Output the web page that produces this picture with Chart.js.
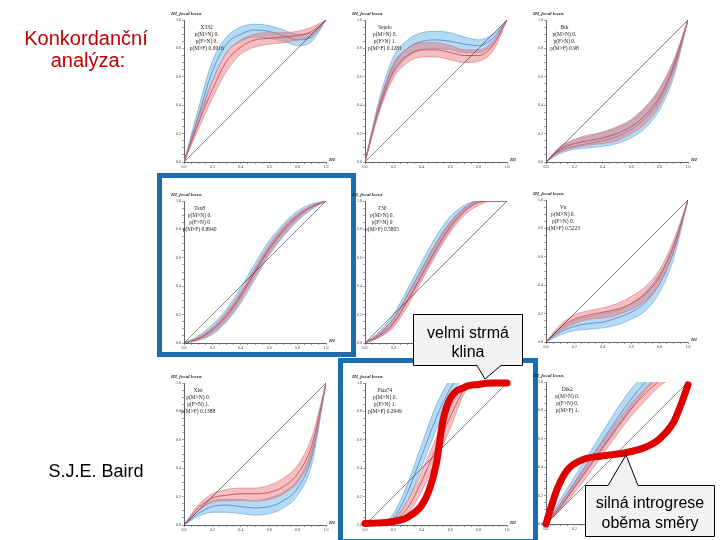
<!DOCTYPE html>
<html>
<head>
<meta charset="utf-8">
<script src="https://cdn.jsdelivr.net/npm/chart.js@4.4.1/dist/chart.umd.min.js"></script>
<style>
  body { margin: 0; width: 720px; height: 540px; background: #fff; position: relative; overflow: hidden; }
  .panel { position: absolute; }
  .frame { position: absolute; border: 5px solid #1b6db3; box-sizing: border-box; }
  svg { position: absolute; left: 0; top: 0; font-family: "Liberation Sans", Arial, sans-serif; }
</style>
</head>
<body>
<div class="frame" style="left:157px;top:173px;width:199px;height:184px"></div>
<div class="frame" style="left:338px;top:358px;width:200px;height:186px"></div>
<div id="panels"></div>
<svg width="720" height="540">
  <text x="86" y="45" font-size="20" fill="#c00000" text-anchor="middle">Konkordanční</text>
  <text x="88" y="67" font-size="20" fill="#c00000" text-anchor="middle">analýza:</text>
  <text x="96" y="477" font-size="18" fill="#000" text-anchor="middle">S.J.E. Baird</text>
  <path d="M413.5,314.5 H522.5 V365.5 H501 L485,379 L477,365.5 H413.5 Z" fill="#f2f2f2" stroke="#000" stroke-width="1"/>
  <text x="468" y="338" font-size="16" text-anchor="middle">velmi strmá</text>
  <text x="468" y="357" font-size="16" text-anchor="middle">klina</text>
  <path d="M585.5,485.5 H608 L626,455 L638,485.5 H714.5 V536.5 H585.5 Z" fill="#f2f2f2" stroke="#000" stroke-width="1"/>
  <text x="650" y="508" font-size="16" text-anchor="middle">silná introgrese</text>
  <text x="650" y="528" font-size="16" text-anchor="middle">oběma směry</text>
</svg>
<script>
// ---- Data: hybrid index grid and cline bands (lo / mid / hi) ----------
const xGrid    = [0, 0.1, 0.2, 0.3, 0.4, 0.5, 0.6, 0.7, 0.8, 0.9, 1.0];
const diagonal = [0, 1];

// panel 1
const p1BlueLo  = [0, 0.27, 0.57, 0.77, 0.85, 0.88, 0.87, 0.85, 0.82, 0.85, 1.0];
const p1BlueMid = [0, 0.32, 0.64, 0.83, 0.90, 0.93, 0.92, 0.89, 0.86, 0.88, 1.0];
const p1BlueHi  = [0, 0.37, 0.71, 0.88, 0.95, 0.97, 0.96, 0.93, 0.90, 0.91, 1.0];
const p1RedLo   = [0, 0.23, 0.45, 0.64, 0.76, 0.81, 0.83, 0.84, 0.86, 0.89, 1.0];
const p1RedMid  = [0, 0.27, 0.51, 0.71, 0.81, 0.86, 0.87, 0.88, 0.89, 0.92, 1.0];
const p1RedHi   = [0, 0.31, 0.57, 0.77, 0.86, 0.90, 0.91, 0.91, 0.92, 0.95, 1.0];
const p1Note    = ["X332", "p(M>N) 0.", "p(F>N) 0.", "p(M>F) 0.0016"];

// panel 2
const p2BlueLo  = [0, 0.36, 0.62, 0.74, 0.79, 0.80, 0.79, 0.77, 0.77, 0.83, 1.0];
const p2BlueMid = [0, 0.40, 0.68, 0.80, 0.85, 0.86, 0.85, 0.83, 0.82, 0.87, 1.0];
const p2BlueHi  = [0, 0.44, 0.74, 0.86, 0.91, 0.92, 0.91, 0.88, 0.86, 0.90, 1.0];
const p2RedLo   = [0, 0.35, 0.59, 0.70, 0.74, 0.74, 0.72, 0.70, 0.71, 0.78, 1.0];
const p2RedMid  = [0, 0.38, 0.64, 0.75, 0.79, 0.79, 0.77, 0.75, 0.75, 0.82, 1.0];
const p2RedHi   = [0, 0.41, 0.69, 0.80, 0.84, 0.84, 0.82, 0.79, 0.79, 0.85, 1.0];
const p2Note    = ["Sepdo", "p(M>N) 0.", "p(F>N) 1.", "p(M>F) 0.1281"];

// panel 3
const p3BlueLo  = [0, 0.06, 0.09, 0.10, 0.11, 0.13, 0.17, 0.24, 0.37, 0.60, 1.0];
const p3BlueMid = [0, 0.08, 0.11, 0.13, 0.15, 0.18, 0.23, 0.31, 0.44, 0.66, 1.0];
const p3BlueHi  = [0, 0.10, 0.15, 0.18, 0.21, 0.24, 0.29, 0.38, 0.51, 0.71, 1.0];
const p3RedLo   = [0, 0.07, 0.10, 0.12, 0.13, 0.15, 0.20, 0.27, 0.40, 0.63, 1.0];
const p3RedMid  = [0, 0.09, 0.13, 0.15, 0.17, 0.20, 0.25, 0.33, 0.46, 0.68, 1.0];
const p3RedHi   = [0, 0.11, 0.16, 0.19, 0.21, 0.25, 0.30, 0.39, 0.52, 0.72, 1.0];
const p3Note    = ["Btk", "p(M>N) 0.", "p(F>N) 0.", "p(M>F) 0.98"];

// panel 4
const p4BlueLo  = [0, 0.02, 0.06, 0.15, 0.28, 0.45, 0.62, 0.75, 0.86, 0.94, 1.0];
const p4BlueMid = [0, 0.03, 0.10, 0.20, 0.34, 0.51, 0.67, 0.80, 0.90, 0.96, 1.0];
const p4BlueHi  = [0, 0.05, 0.13, 0.24, 0.39, 0.56, 0.72, 0.84, 0.93, 0.98, 1.0];
const p4RedLo   = [0, 0.02, 0.07, 0.16, 0.30, 0.47, 0.63, 0.76, 0.87, 0.95, 1.0];
const p4RedMid  = [0, 0.03, 0.09, 0.19, 0.33, 0.50, 0.66, 0.79, 0.89, 0.96, 1.0];
const p4RedHi   = [0, 0.04, 0.11, 0.22, 0.36, 0.53, 0.69, 0.82, 0.91, 0.97, 1.0];
const p4Note    = ["Tsx8", "p(M>N) 0.", "p(F>N) 0", "p(M>F) 0.8940"];

// panel 5
const p5BlueLo  = [0, 0.04, 0.13, 0.29, 0.46, 0.64, 0.80, 0.92, 0.99, 1.0, 1.0];
const p5BlueMid = [0, 0.06, 0.17, 0.34, 0.52, 0.70, 0.85, 0.95, 1.0, 1.0, 1.0];
const p5BlueHi  = [0, 0.08, 0.20, 0.38, 0.57, 0.75, 0.89, 0.97, 1.0, 1.0, 1.0];
const p5RedLo   = [0, 0.04, 0.11, 0.26, 0.44, 0.62, 0.78, 0.90, 0.97, 1.0, 1.0];
const p5RedMid  = [0, 0.05, 0.14, 0.30, 0.48, 0.66, 0.82, 0.93, 0.99, 1.0, 1.0];
const p5RedHi   = [0, 0.07, 0.17, 0.34, 0.52, 0.70, 0.85, 0.95, 1.0, 1.0, 1.0];
const p5Note    = ["T30", "p(M>N) 0.", "p(F>N) 0", "p(M>F) 0.5805"];

// panel 6
const p6BlueLo  = [0, 0.05, 0.08, 0.09, 0.10, 0.12, 0.16, 0.22, 0.35, 0.59, 1.0];
const p6BlueMid = [0, 0.07, 0.11, 0.13, 0.14, 0.17, 0.21, 0.28, 0.41, 0.64, 1.0];
const p6BlueHi  = [0, 0.09, 0.15, 0.18, 0.20, 0.22, 0.27, 0.35, 0.48, 0.69, 1.0];
const p6RedLo   = [0, 0.08, 0.13, 0.16, 0.17, 0.19, 0.23, 0.29, 0.41, 0.64, 1.0];
const p6RedMid  = [0, 0.10, 0.16, 0.19, 0.21, 0.23, 0.27, 0.34, 0.46, 0.68, 1.0];
const p6RedHi   = [0, 0.12, 0.19, 0.22, 0.24, 0.27, 0.32, 0.39, 0.51, 0.72, 1.0];
const p6Note    = ["Vn", "p(M>N) 0.", "p(F>N) 0.", "p(M>F) 0.5223"];

// panel 7
const p7BlueLo  = [0, 0.06, 0.09, 0.09, 0.08, 0.07, 0.08, 0.12, 0.21, 0.43, 1.0];
const p7BlueMid = [0, 0.08, 0.13, 0.14, 0.13, 0.12, 0.13, 0.17, 0.26, 0.48, 1.0];
const p7BlueHi  = [0, 0.10, 0.17, 0.18, 0.18, 0.17, 0.19, 0.23, 0.32, 0.53, 1.0];
const p7RedLo   = [0, 0.10, 0.16, 0.17, 0.17, 0.17, 0.18, 0.22, 0.30, 0.50, 1.0];
const p7RedMid  = [0, 0.12, 0.19, 0.21, 0.22, 0.22, 0.23, 0.27, 0.36, 0.56, 1.0];
const p7RedHi   = [0, 0.14, 0.22, 0.25, 0.26, 0.26, 0.28, 0.33, 0.42, 0.62, 1.0];
const p7Note    = ["Xist", "p(M>N) 0.", "p(F>N) 1.", "p(M>F) 0.1388"];

// panel 8 (bands leave the plot through the top)
const p8BlueLo  = [0, 0.00, 0.03, 0.17, 0.41, 0.67, 0.90, 1.06, null, null, null];
const p8BlueMid = [0, 0.005, 0.05, 0.23, 0.49, 0.75, 0.96, 1.10, null, null, null];
const p8BlueHi  = [0, 0.01, 0.08, 0.29, 0.57, 0.84, 1.03, 1.15, null, null, null];
const p8RedLo   = [0, 0.00, 0.015, 0.08, 0.24, 0.46, 0.68, 0.93, 1.05, null, null];
const p8RedMid  = [0, 0.002, 0.03, 0.12, 0.31, 0.54, 0.76, 0.96, 1.07, null, null];
const p8RedHi   = [0, 0.004, 0.04, 0.17, 0.38, 0.61, 0.83, 0.99, 1.10, null, null];
const p8Note    = ["Piaz74", "p(M>N) 0.", "p(F>N) 1.", "p(M>F) 0.2949"];
const p8StrokeX = [0, 0.1, 0.2, 0.3, 0.4, 0.45, 0.5, 0.55, 0.6, 0.7, 0.8, 0.9, 1.0];
const p8StrokeY = [0.01, 0.015, 0.025, 0.055, 0.14, 0.24, 0.42, 0.74, 0.89, 0.97, 0.99, 1.0, 1.0];

// panel 9
const p9BlueLo  = [0, 0.11, 0.25, 0.39, 0.53, 0.67, 0.81, 0.94, 1.04, null, null];
const p9BlueMid = [0, 0.14, 0.29, 0.44, 0.59, 0.74, 0.88, 1.00, 1.10, null, null];
const p9BlueHi  = [0, 0.17, 0.33, 0.49, 0.65, 0.81, 0.95, 1.06, 1.15, null, null];
const p9RedLo   = [0, 0.10, 0.22, 0.35, 0.49, 0.63, 0.76, 0.87, 0.97, 1.04, null];
const p9RedMid  = [0, 0.12, 0.26, 0.40, 0.54, 0.68, 0.81, 0.92, 1.01, 1.08, null];
const p9RedHi   = [0, 0.14, 0.29, 0.44, 0.58, 0.72, 0.85, 0.96, 1.05, 1.12, null];
const p9Note    = ["Dik2", "p(M>N) 0.", "p(F>N) 0.", "p(M>F) 1."];
const p9StrokeX = [0, 0.03, 0.08, 0.15, 0.25, 0.4, 0.55, 0.7, 0.8, 0.9, 0.95, 1.0];
const p9StrokeY = [0, 0.10, 0.25, 0.38, 0.45, 0.48, 0.50, 0.54, 0.60, 0.72, 0.84, 0.98];

// ---- Styles ------------------------------------------------------------
const blueFill = "rgba(120,190,235,0.55)", blueEdge = "#5b9bd0", blueLine = "#2f4f9f";
const redFill  = "rgba(236,110,115,0.45)", redEdge  = "#d27880", redLine  = "#a8323f";
const serif    = "'Liberation Serif', 'DejaVu Serif', serif";

const pts = (xs, ys) => xs.map((x, i) => ({ x, y: ys[i] }));

function bandSets(lo, mid, hi, fill, edge, line, order) {
  return [
    { data: pts(xGrid, hi),  borderColor: edge, borderWidth: 0.6, backgroundColor: fill, fill: "+1", order },
    { data: pts(xGrid, lo),  borderColor: edge, borderWidth: 0.6, fill: false, order },
    { data: pts(xGrid, mid), borderColor: line, borderWidth: 0.9, fill: false, order },
  ];
}

// titles, axis name and locus note drawn on each panel
const panelText = {
  id: "panelText",
  afterDatasetsDraw(chart, args, opts) {
    const { ctx, chartArea: a, scales: { x, y } } = chart;
    ctx.save();
    ctx.fillStyle = "#222";
    ctx.font = `italic bold 5px ${serif}`;
    ctx.textAlign = "left";
    ctx.fillText("HI_focal locus", a.left - 13, a.top - 5);
    ctx.fillText("HI", a.right + 3, a.bottom - 1);
    ctx.font = `5.5px ${serif}`;
    ctx.textAlign = "center";
    opts.lines.forEach((t, i) => ctx.fillText(t, x.getPixelForValue(opts.at), y.getPixelForValue(0.94) + i * 7));
    ctx.restore();
  },
};

function axis(isX) {
  return {
    type: "linear", min: 0, max: 1,
    afterFit: (s) => { if (isX) s.height = 12; else s.width = 14; },
    ticks: {
      stepSize: 0.05, autoSkip: false, maxRotation: 0, padding: 1,
      color: "#333", font: { family: serif, size: 4 },
      callback: (v) => (Math.round(v * 20) % 4 === 0 ? v.toFixed(1) : ""),
    },
    grid: { drawOnChartArea: false, tickLength: 2, color: "#444", lineWidth: 0.5 },
    border: { color: "#222", width: 0.7 },
  };
}

function makePanel(left, top, blue, red, note, noteAt, stroke) {
  const W = 170, H = 166;
  const canvas = document.createElement("canvas");
  canvas.width = W; canvas.height = H;
  canvas.className = "panel";
  canvas.style.left = (left - 16) + "px";
  canvas.style.top  = (top - 12) + "px";
  document.getElementById("panels").appendChild(canvas);

  const datasets = [
    ...bandSets(...red,  redFill,  redEdge,  redLine,  2),
    ...bandSets(...blue, blueFill, blueEdge, blueLine, 3),
    { data: pts(diagonal, diagonal), borderColor: "#333", borderWidth: 0.6, fill: false, order: 1 },
  ];
  if (stroke) {
    datasets.push({
      data: pts(stroke[0], stroke[1]), borderColor: "#e00000", borderWidth: 7,
      borderCapStyle: "round", fill: false, clip: false, order: 0,
    });
  }

  new Chart(canvas, {
    type: "line",
    data: { datasets },
    plugins: [panelText],
    options: {
      responsive: false, animation: false,
      layout: { padding: { top: 12, right: 12, left: 2, bottom: 0 } },
      elements: { point: { radius: 0 }, line: { cubicInterpolationMode: "monotone" } },
      plugins: {
        legend: { display: false }, tooltip: { enabled: false },
        panelText: { lines: note, at: noteAt },
      },
      scales: { x: axis(true), y: axis(false) },
    },
  });
}

// ---- Layout: 3 x 3 grid of panels ---------------------------------------
makePanel(184, 20,  [p1BlueLo, p1BlueMid, p1BlueHi], [p1RedLo, p1RedMid, p1RedHi], p1Note, 0.16);
makePanel(365, 20,  [p2BlueLo, p2BlueMid, p2BlueHi], [p2RedLo, p2RedMid, p2RedHi], p2Note, 0.14);
makePanel(546, 20,  [p3BlueLo, p3BlueMid, p3BlueHi], [p3RedLo, p3RedMid, p3RedHi], p3Note, 0.13);
makePanel(184, 201, [p4BlueLo, p4BlueMid, p4BlueHi], [p4RedLo, p4RedMid, p4RedHi], p4Note, 0.11);
makePanel(365, 201, [p5BlueLo, p5BlueMid, p5BlueHi], [p5RedLo, p5RedMid, p5RedHi], p5Note, 0.12);
makePanel(546, 200, [p6BlueLo, p6BlueMid, p6BlueHi], [p6RedLo, p6RedMid, p6RedHi], p6Note, 0.12);
makePanel(184, 383, [p7BlueLo, p7BlueMid, p7BlueHi], [p7RedLo, p7RedMid, p7RedHi], p7Note, 0.10);
makePanel(365, 383, [p8BlueLo, p8BlueMid, p8BlueHi], [p8RedLo, p8RedMid, p8RedHi], p8Note, 0.14,
          [p8StrokeX, p8StrokeY]);
makePanel(546, 382, [p9BlueLo, p9BlueMid, p9BlueHi], [p9RedLo, p9RedMid, p9RedHi], p9Note, 0.15,
          [p9StrokeX, p9StrokeY]);
</script>
</body>
</html>
